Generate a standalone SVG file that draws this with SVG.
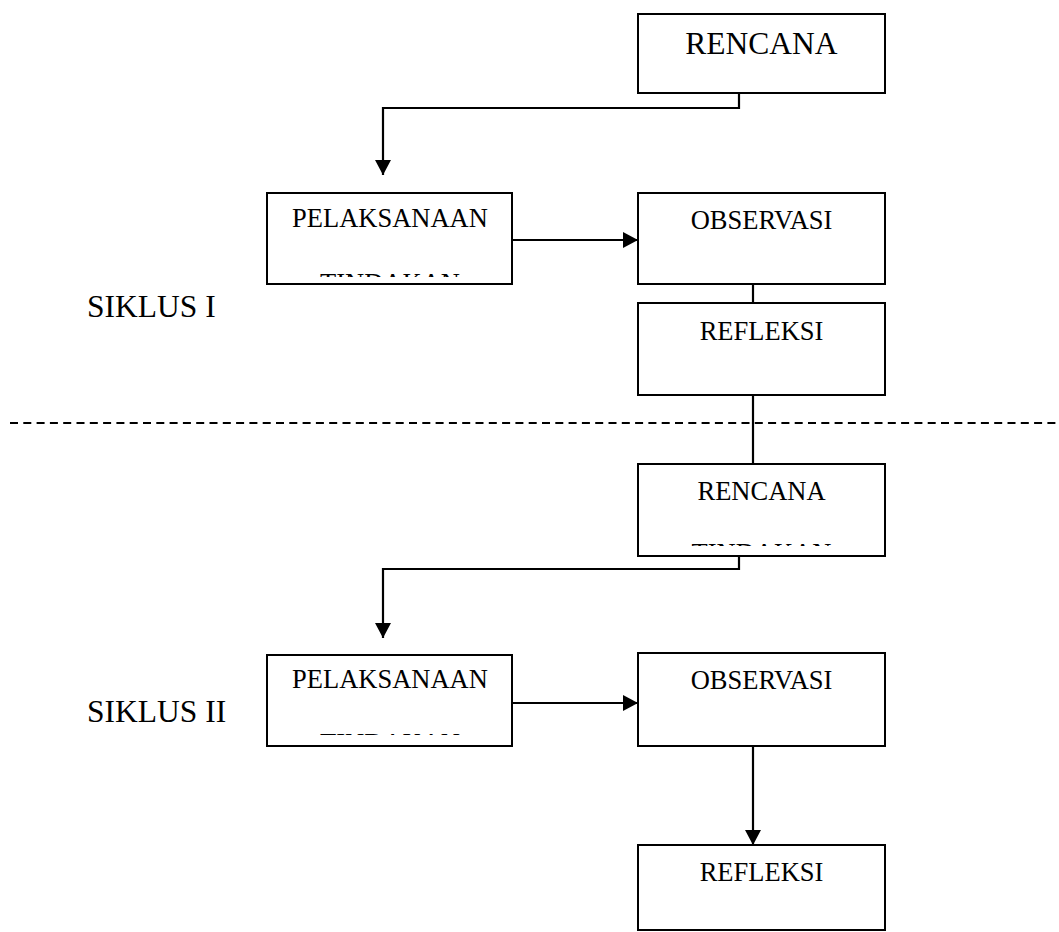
<svg xmlns="http://www.w3.org/2000/svg" width="1059" height="932" viewBox="0 0 1059 932">
<style>
.box{fill:#fff;stroke:#000;stroke-width:2}
.ln{fill:none;stroke:#000;stroke-width:2.2}
.big{font-family:"Liberation Serif","Times New Roman",serif;font-size:31.5px;fill:#000}
.sm{font-family:"Liberation Serif","Times New Roman",serif;font-size:26.5px;fill:#000;text-anchor:middle}
</style>
<defs>
<marker id="arr" markerWidth="16" markerHeight="16" refX="15" refY="8" orient="auto" markerUnits="userSpaceOnUse">
<path d="M0,0 L15,8 L0,16 Z" fill="#000"/>
</marker>
<clipPath id="c1"><rect x="267" y="268" width="245" height="9"/></clipPath>
<clipPath id="c2"><rect x="638" y="538" width="247" height="8"/></clipPath>
<clipPath id="c3"><rect x="267" y="725" width="245" height="10"/></clipPath>
</defs>
<g id="connectors">
<path class="ln" d="M739,93 V108 H383 V175" marker-end="url(#arr)"/>
<path class="ln" d="M512,240 H638" marker-end="url(#arr)"/>
<path class="ln" d="M753,284 V303"/>
<path class="ln" d="M753,395 V464"/>
<path class="ln" d="M739,556 V569 H383 V638" marker-end="url(#arr)"/>
<path class="ln" d="M512,703 H638" marker-end="url(#arr)"/>
<path class="ln" d="M753,746 V845" marker-end="url(#arr)"/>
<line x1="10" y1="423" x2="1059" y2="423" stroke="#000" stroke-width="2" stroke-dasharray="8,5.3"/>
</g>
<g id="rencana1">
<rect class="box" x="638" y="14" width="247" height="79"/>
<text class="sm" x="761.5" y="54" style="font-size:31.5px">RENCANA</text>
</g>
<g id="pelaksanaan1">
<rect class="box" x="267" y="193" width="245" height="91"/>
<text class="sm" x="390" y="227">PELAKSANAAN</text>
<text class="sm" x="390" y="292" clip-path="url(#c1)">TINDAKAN</text>
</g>
<g id="observasi1">
<rect class="box" x="638" y="193" width="247" height="91"/>
<text class="sm" x="761.5" y="229">OBSERVASI</text>
</g>
<g id="refleksi1">
<rect class="box" x="638" y="303" width="247" height="92"/>
<text class="sm" x="761.5" y="340">REFLEKSI</text>
</g>
<g id="siklus1"><text class="big" x="87" y="317">SIKLUS I</text></g>
<g id="rencana2">
<rect class="box" x="638" y="464" width="247" height="92"/>
<text class="sm" x="761.5" y="500">RENCANA</text>
<text class="sm" x="761.5" y="562" clip-path="url(#c2)">TINDAKAN</text>
</g>
<g id="pelaksanaan2">
<rect class="box" x="267" y="655" width="245" height="91"/>
<text class="sm" x="390" y="688">PELAKSANAAN</text>
<text class="sm" x="390" y="752" clip-path="url(#c3)">TINDAKAN</text>
</g>
<g id="observasi2">
<rect class="box" x="638" y="653" width="247" height="93"/>
<text class="sm" x="761.5" y="689">OBSERVASI</text>
</g>
<g id="siklus2"><text class="big" x="87" y="722">SIKLUS II</text></g>
<g id="refleksi2">
<rect class="box" x="638" y="845" width="247" height="85"/>
<text class="sm" x="761.5" y="881">REFLEKSI</text>
</g>
</svg>
